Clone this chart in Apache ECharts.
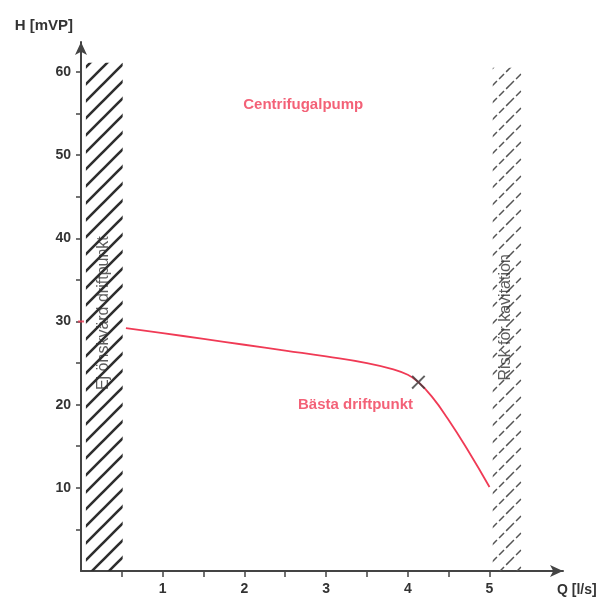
<!DOCTYPE html>
<html>
<head>
<meta charset="utf-8">
<script src="https://cdn.jsdelivr.net/npm/echarts@6/dist/echarts.min.js"></script>
<style>
html,body{margin:0;padding:0;background:#fff;}
#chart{width:603px;height:598px;}
</style>
</head>
<body>
<div id="chart"></div>
<script>
// ---- data ----
var curveQ = [0.55, 1.0, 1.5, 2.0, 2.5, 3.0, 3.5, 3.8, 4.0, 4.13, 4.3, 4.49, 4.73, 5.0];
var curveH = [29.2, 28.6, 27.9, 27.2, 26.5, 25.8, 25.0, 24.3, 23.6, 22.7, 20.9, 18.3, 14.6, 10.1];
var bestPoint = [4.13, 22.7];
var startMark = [0, 30];
var yTickValues = [5, 10, 15, 20, 25, 30, 35, 40, 45, 50, 55, 60];
var yLabelValues = [10, 20, 30, 40, 50, 60];
var xTickValues = [0.5, 1, 1.5, 2, 2.5, 3, 3.5, 4, 4.5, 5];
var xLabelValues = [1, 2, 3, 4, 5];
var zoneNames = ['left', 'right'];
var zoneStart = [0.06, 5.04];
var zoneEnd = [0.51, 5.39];
var zoneTop = [61.1, 60.5];
var zoneTexts = ['Ej önskvärd driftpunkt', 'Risk för kavitation'];
var zoneTextPos = [[0.28, 31.0], [5.2, 30.5]];
var titleText = 'Centrifugalpump';
var titlePos = [2.72, 56.0];
var bestText = 'Bästa driftpunkt';
var bestTextPos = [3.36, 20.0];
var xName = 'Q [l/s]';
var yName = 'H [mVP]';

function makeHatch(color, width, size, dash) {
  var c = document.createElement('canvas');
  c.width = size; c.height = size;
  var ctx = c.getContext('2d');
  ctx.strokeStyle = color;
  ctx.lineWidth = width;
  ctx.lineCap = 'butt';
  if (dash) ctx.setLineDash(dash);
  ctx.beginPath();
  ctx.moveTo(-1, size + 1); ctx.lineTo(size + 1, -1);
  ctx.moveTo(-size - 1, size + 1); ctx.lineTo(1, -1);
  ctx.moveTo(-1, 2 * size + 1); ctx.lineTo(2 * size + 1, -1);
  ctx.stroke();
  return c;
}
var hatchLeft = { image: makeHatch('#2e2e2e', 2.6, 17), repeat: 'repeat' };
var hatchRight = { image: makeHatch('#555', 1.5, 17, [7, 3]), repeat: 'repeat' };

var axisColor = '#444';
var red = '#f03a55';
var font = 'Liberation Sans, Arial, sans-serif';

var zoneData = zoneNames.map(function (n, i) { return [zoneStart[i], zoneEnd[i], zoneTop[i], i]; });

var chart = echarts.init(document.getElementById('chart'), null, { renderer: 'canvas' });
chart.setOption({
  animation: false,
  backgroundColor: '#fff',
  grid: { left: 81, right: 40, top: 42, bottom: 27, containLabel: false },
  xAxis: {
    type: 'value', min: 0, max: 5.9,
    name: xName, nameLocation: 'end', nameGap: -6,
    nameTextStyle: { color: '#333', fontFamily: font, fontWeight: 'bold', fontSize: 14, align: 'left', verticalAlign: 'top', padding: [12, 0, 0, 0] },
    axisLine: { show: true, symbol: ['none', 'arrow'], symbolSize: [9, 13], lineStyle: { color: axisColor, width: 2 } },
    axisTick: { show: true, inside: false, length: 6, customValues: xTickValues, lineStyle: { color: axisColor, width: 1.5 } },
    axisLabel: { show: true, customValues: xLabelValues, margin: 11, color: '#333', fontFamily: font, fontWeight: 'bold', fontSize: 14 },
    splitLine: { show: false }
  },
  yAxis: {
    type: 'value', min: 0, max: 63.6,
    name: yName, nameLocation: 'end', nameGap: 9,
    nameTextStyle: { color: '#333', fontFamily: font, fontWeight: 'bold', fontSize: 15, align: 'right', padding: [0, 8, 0, 0] },
    axisLine: { show: true, symbol: ['none', 'arrow'], symbolSize: [9, 13], lineStyle: { color: axisColor, width: 2 } },
    axisTick: { show: true, inside: false, length: 5, customValues: yTickValues, lineStyle: { color: axisColor, width: 1.5 } },
    axisLabel: { show: true, customValues: yLabelValues, margin: 10, color: '#333', fontFamily: font, fontWeight: 'bold', fontSize: 14 },
    splitLine: { show: false }
  },
  series: [
    {
      type: 'custom',
      name: 'zones',
      data: zoneData,
      z: 1,
      silent: true,
      renderItem: function (params, api) {
        var p0 = api.coord([api.value(0), api.value(2)]);
        var p1 = api.coord([api.value(1), 0]);
        var idx = api.value(3);
        return {
          type: 'rect',
          shape: { x: p0[0], y: p0[1], width: p1[0] - p0[0], height: p1[1] - p0[1] },
          style: { fill: idx === 0 ? hatchLeft : hatchRight, stroke: null }
        };
      }
    },
    {
      type: 'line',
      name: 'curve',
      data: curveQ.map(function (q, i) { return [q, curveH[i]]; }),
      smooth: 0.5,
      showSymbol: false,
      z: 3,
      lineStyle: { color: red, width: 1.8 }
    },
    {
      type: 'scatter',
      name: 'best',
      data: [bestPoint],
      symbol: 'path://M0,1 L1,0 L5,4 L9,0 L10,1 L6,5 L10,9 L9,10 L5,6 L1,10 L0,9 L4,5 Z',
      symbolSize: 14,
      z: 4,
      itemStyle: { color: '#3a3a3a' }
    },
    {
      type: 'scatter',
      name: 'startmark',
      data: [startMark],
      symbol: 'rect',
      symbolSize: [6, 2],
      z: 5,
      itemStyle: { color: red }
    },
    {
      type: 'scatter',
      name: 'zoneLabels',
      symbolSize: 0,
      z: 6,
      data: zoneTextPos.map(function (p, i) { return { value: p, name: zoneTexts[i] }; }),
      label: {
        show: true, position: 'inside', rotate: 90,
        formatter: function (p) { return p.name; },
        color: '#333', fontFamily: font, fontSize: 16
      }
    },
    {
      type: 'scatter',
      name: 'redLabels',
      symbolSize: 0,
      z: 6,
      data: [{ value: titlePos, name: titleText }, { value: bestTextPos, name: bestText }],
      label: {
        show: true, position: 'inside',
        formatter: function (p) { return p.name; },
        color: red, fontFamily: font, fontSize: 15, fontWeight: 'bold'
      }
    }
  ]
});
</script>
</body>
</html>
